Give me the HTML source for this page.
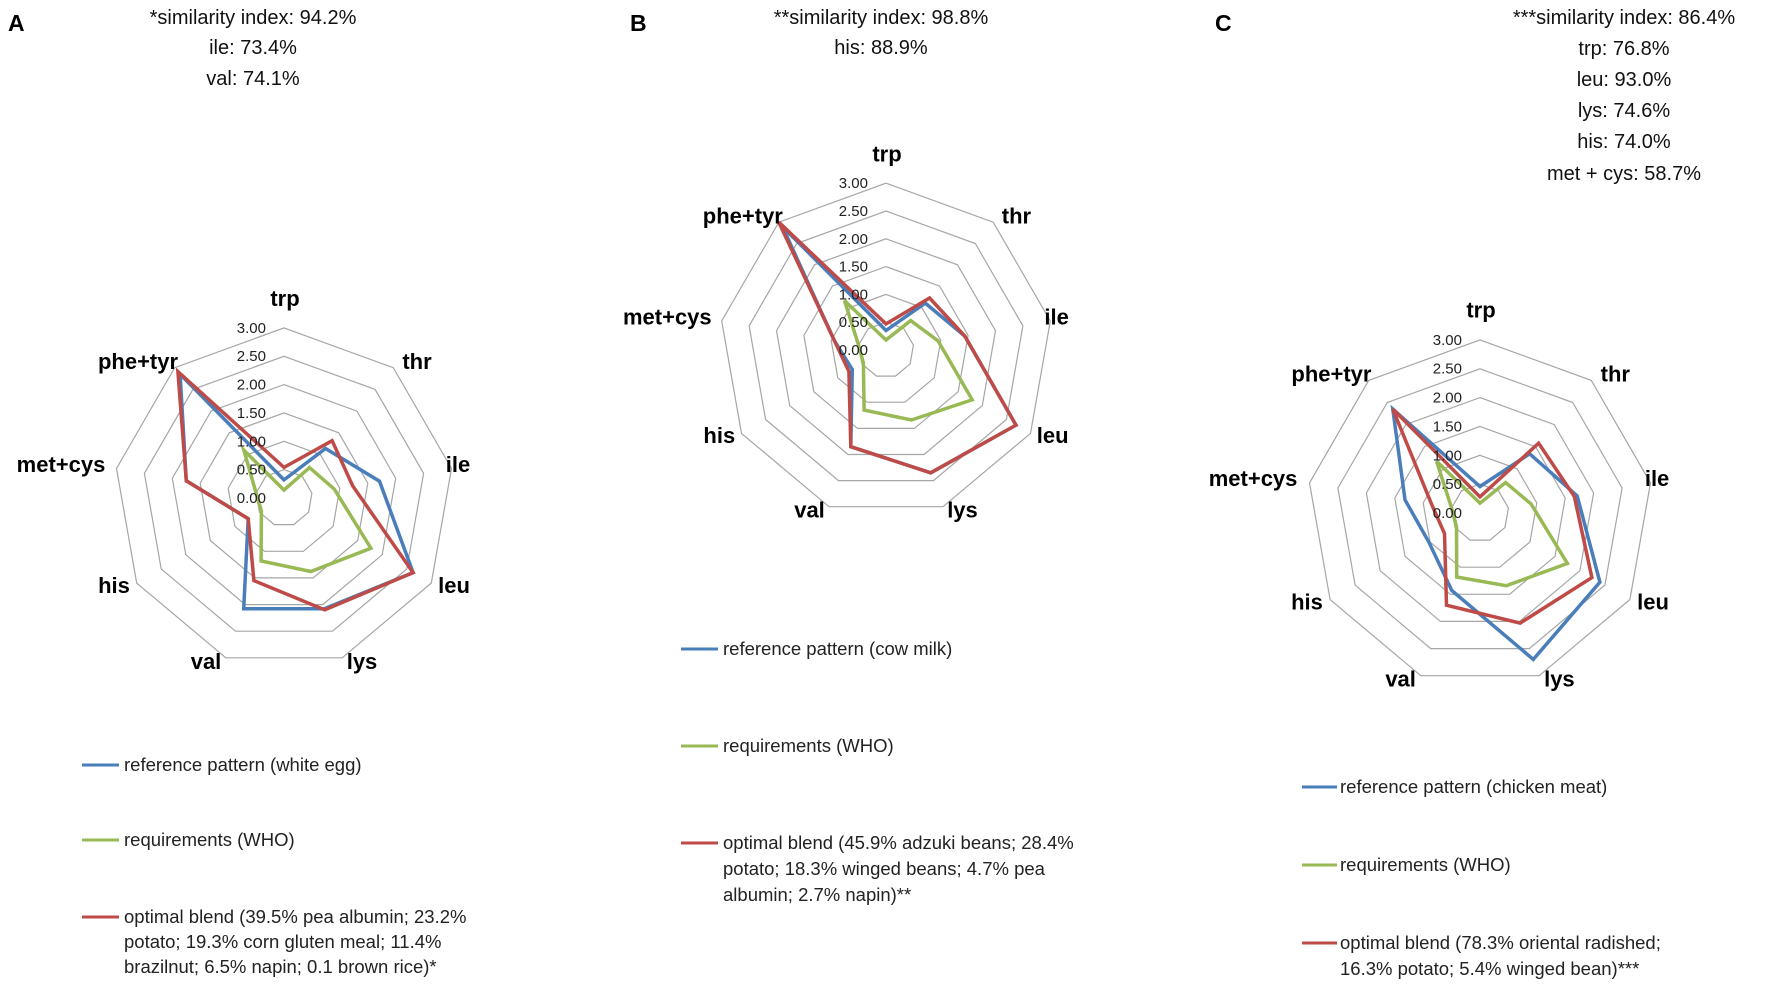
<!DOCTYPE html>
<html><head><meta charset="utf-8"><style>
html,body{margin:0;padding:0;background:#fff;}
svg{display:block;}
.h{font-family:"Liberation Sans",sans-serif;font-size:20px;fill:#111;text-anchor:middle;}
.L{font-family:"Liberation Sans",sans-serif;font-size:23px;font-weight:bold;fill:#000;}
.ax{font-family:"Liberation Sans",sans-serif;font-size:22px;font-weight:bold;fill:#000;text-anchor:middle;dominant-baseline:middle;}
.tk{font-family:"Liberation Sans",sans-serif;font-size:15px;fill:#222;text-anchor:end;dominant-baseline:middle;}
.lg{font-family:"Liberation Sans",sans-serif;font-size:18.5px;fill:#222;}
</style></head><body>
<svg id="s" width="1772" height="994" viewBox="0 0 1772 994" xmlns="http://www.w3.org/2000/svg">
<g id="grid"></g>
<g id="series"></g>
<text class="L" x="8" y="31">A</text>
<text class="L" x="630" y="31">B</text>
<text class="L" x="1215" y="31">C</text>
<text class="h" x="253" y="24">*similarity index: 94.2%</text>
<text class="h" x="253" y="54">ile: 73.4%</text>
<text class="h" x="253" y="85">val: 74.1%</text>
<text class="h" x="881" y="24">**similarity index: 98.8%</text>
<text class="h" x="881" y="54">his: 88.9%</text>
<text class="h" x="1624" y="24">***similarity index: 86.4%</text>
<text class="h" x="1624" y="55">trp: 76.8%</text>
<text class="h" x="1624" y="86">leu: 93.0%</text>
<text class="h" x="1624" y="117">lys: 74.6%</text>
<text class="h" x="1624" y="148">his: 74.0%</text>
<text class="h" x="1624" y="180">met + cys: 58.7%</text>
<g id="labels"></g>
<line x1="82" y1="765" x2="119" y2="765" stroke="#4a7ebb" stroke-width="3"/>
<text class="lg" x="124" y="771">reference pattern (white egg)</text>
<line x1="82" y1="840" x2="119" y2="840" stroke="#98b954" stroke-width="3"/>
<text class="lg" x="124" y="846">requirements (WHO)</text>
<line x1="82" y1="917" x2="119" y2="917" stroke="#be4b48" stroke-width="3"/>
<text class="lg" x="124" y="923">optimal blend (39.5% pea albumin; 23.2%</text>
<text class="lg" x="124" y="948">potato; 19.3% corn gluten meal; 11.4%</text>
<text class="lg" x="124" y="973">brazilnut; 6.5% napin; 0.1 brown rice)*</text>
<line x1="681" y1="649" x2="718" y2="649" stroke="#4a7ebb" stroke-width="3"/>
<text class="lg" x="723" y="655">reference pattern (cow milk)</text>
<line x1="681" y1="746" x2="718" y2="746" stroke="#98b954" stroke-width="3"/>
<text class="lg" x="723" y="752">requirements (WHO)</text>
<line x1="681" y1="843" x2="718" y2="843" stroke="#be4b48" stroke-width="3"/>
<text class="lg" x="723" y="849">optimal blend (45.9% adzuki beans; 28.4%</text>
<text class="lg" x="723" y="875">potato; 18.3% winged beans; 4.7% pea</text>
<text class="lg" x="723" y="901">albumin; 2.7% napin)**</text>
<line x1="1302" y1="787" x2="1337" y2="787" stroke="#4a7ebb" stroke-width="3"/>
<text class="lg" x="1340" y="793">reference pattern (chicken meat)</text>
<line x1="1302" y1="865" x2="1337" y2="865" stroke="#98b954" stroke-width="3"/>
<text class="lg" x="1340" y="871">requirements (WHO)</text>
<line x1="1302" y1="943" x2="1337" y2="943" stroke="#be4b48" stroke-width="3"/>
<text class="lg" x="1340" y="949">optimal blend (78.3% oriental radished;</text>
<text class="lg" x="1340" y="975">16.3% potato; 5.4% winged bean)***</text>
</svg>
<script>
var NS="http://www.w3.org/2000/svg";
var names=["trp","thr","ile","leu","lys","val","his","met+cys","phe+tyr"];
var offs=[[1,-198],[133,-135],[174,-32],[170,89],[78,165],[-78,165],[-170,89],[-223,-32],[-146,-135]];
var charts=[
 {cx:284,cy:498,u:56.7,
  blue:[0.32,1.14,1.71,2.63,2.08,2.08,0.73,1.75,2.85],
  green:[0.14,0.70,0.90,1.77,1.38,1.18,0.46,0.50,1.10],
  red:[0.54,1.32,1.23,2.63,2.10,1.55,0.73,1.75,2.91]},
 {cx:886,cy:350,u:55.6,
  blue:[0.35,1.10,1.44,2.70,2.35,1.85,0.70,0.94,2.90],
  green:[0.18,0.69,0.95,1.79,1.34,1.15,0.47,0.50,1.16],
  red:[0.47,1.22,1.44,2.70,2.35,1.85,0.77,0.94,3.00]},
 {cx:1480,cy:513,u:57.7,
  blue:[0.46,1.34,1.71,2.40,2.70,1.43,1.02,1.32,2.35],
  green:[0.17,0.69,0.90,1.75,1.34,1.18,0.47,0.50,1.17],
  red:[0.28,1.58,1.66,2.24,2.03,1.70,0.71,0.85,2.35]}
];
function pt(c,i,v){var a=i*40*Math.PI/180;return [c.cx+v*c.u*Math.sin(a),c.cy-v*c.u*Math.cos(a)];}
function poly(c,vals,col,w,g){var p=vals.map(function(v,i){return pt(c,i,v).map(function(n){return n.toFixed(1)}).join(",")}).join(" ");
 var e=document.createElementNS(NS,"polygon");e.setAttribute("points",p);e.setAttribute("fill","none");e.setAttribute("stroke",col);e.setAttribute("stroke-width",w);e.setAttribute("stroke-linejoin","miter");g.appendChild(e);}
var G=document.getElementById("grid"),S=document.getElementById("series"),LB=document.getElementById("labels");
charts.forEach(function(c,ci){
 for(var k=1;k<=6;k++){var v=k*0.5;poly(c,[v,v,v,v,v,v,v,v,v],"#a6a6a6",1.2,G);}
 for(var k=0;k<=6;k++){var t=document.createElementNS(NS,"text");t.setAttribute("class","tk");t.setAttribute("x",c.cx-18);t.setAttribute("y",c.cy-k*0.5*c.u+1);t.textContent=(k*0.5).toFixed(2);LB.appendChild(t);}
 poly(c,c.blue,"#4a7ebb",3.5,S);poly(c,c.green,"#98b954",3.5,S);poly(c,c.red,"#be4b48",3.5,S);
 var sc=c.u/56.7;
 names.forEach(function(n,i){var t=document.createElementNS(NS,"text");t.setAttribute("class","ax");t.setAttribute("x",c.cx+offs[i][0]*sc);t.setAttribute("y",c.cy+offs[i][1]*sc);t.textContent=n;LB.appendChild(t);});
});
</script>
</body></html>
